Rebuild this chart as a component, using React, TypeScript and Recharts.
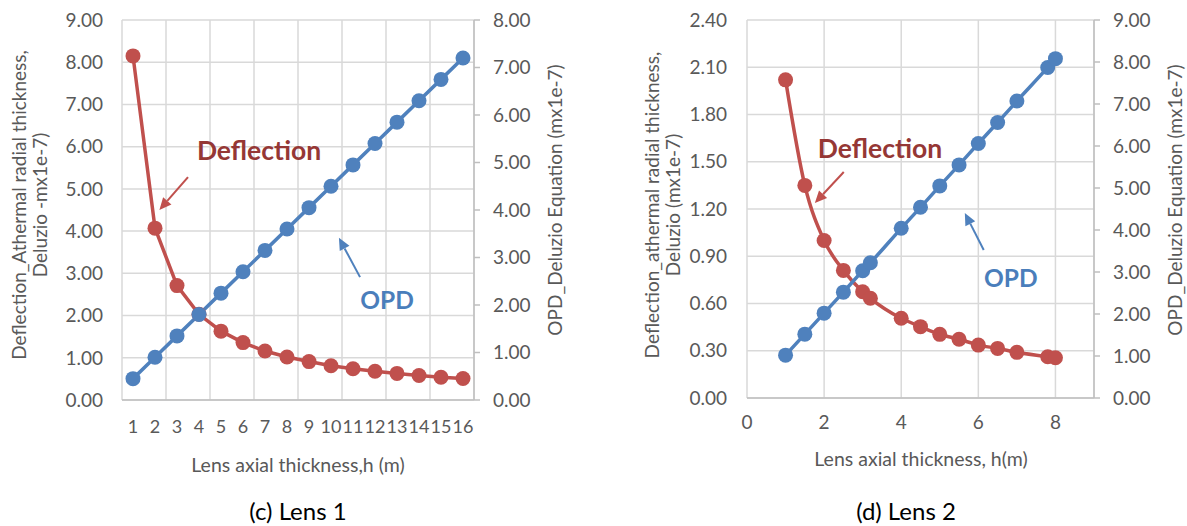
import React from 'react';
import { LineChart, Line, XAxis, YAxis, CartesianGrid, ReferenceLine, ReferenceDot } from 'recharts';

const FONT = "Lato, 'Open Sans', sans-serif";
const RED = '#C0504D';
const BLUE = '#4F81BD';
const RED_TEXT = '#953735';
const BLUE_TEXT = '#4A7EBB';
const AXIS_TEXT = '#595959';
const GRID = '#D9D9D9';
const AXIS_LINE = '#BFBFBF';

// ---- Lens 1 ----
const lens1H = [1, 2, 3, 4, 5, 6, 7, 8, 9, 10, 11, 12, 13, 14, 15, 16];
const lens1Deflection = [8.15, 4.07, 2.71, 2.03, 1.63, 1.36, 1.16, 1.02, 0.91, 0.81, 0.74, 0.68, 0.63, 0.58, 0.54, 0.51];
const lens1OPD = [0.45, 0.9, 1.35, 1.8, 2.25, 2.7, 3.15, 3.6, 4.05, 4.5, 4.95, 5.4, 5.85, 6.3, 6.75, 7.2];
const lens1LeftTicks = [0, 1, 2, 3, 4, 5, 6, 7, 8, 9];
const lens1RightTicks = [0, 1, 2, 3, 4, 5, 6, 7, 8];
const lens1GridX = [0.5, ...lens1H.map((h) => h + 0.5)];

// ---- Lens 2 ----
const lens2H = [1, 1.5, 2, 2.5, 3, 3.2, 4, 4.5, 5, 5.5, 6, 6.5, 7, 7.8, 8];
const lens2Deflection = [2.02, 1.35, 1.0, 0.81, 0.675, 0.633, 0.506, 0.453, 0.404, 0.373, 0.336, 0.315, 0.29, 0.262, 0.256];
const lens2OPD = [1.02, 1.52, 2.02, 2.52, 3.03, 3.22, 4.04, 4.54, 5.05, 5.55, 6.06, 6.56, 7.07, 7.87, 8.08];
const lens2LeftTicks = [0, 0.3, 0.6, 0.9, 1.2, 1.5, 1.8, 2.1, 2.4];
const lens2RightTicks = [0, 1, 2, 3, 4, 5, 6, 7, 8, 9];
const lens2XTicks = [0, 2, 4, 6, 8];

// annotation anchors (data units)
const lens1DeflLabel = { x: 6.73, y: 5.92 };
const lens1DeflArrow = [{ x: 3.5, y: 5.28 }, { x: 2.2, y: 4.5 }];
const lens1OpdLabel = { x: 12.55, y: 2.37 };
const lens1OpdArrow = [{ x: 11.32, y: 2.91 }, { x: 10.36, y: 3.84 }];

const lens2DeflLabel = { x: 3.45, y: 1.587 };
const lens2DeflArrow = [{ x: 2.51, y: 1.435 }, { x: 1.76, y: 1.238 }];
const lens2OpdLabel = { x: 6.84, y: 0.768 };
const lens2OpdArrow = [{ x: 6.14, y: 0.94 }, { x: 5.65, y: 1.175 }];

const lens1Data = lens1H.map((h, i) => ({ h, deflection: lens1Deflection[i], opd: lens1OPD[i] }));
const lens2Data = lens2H.map((h, i) => ({ h, deflection: lens2Deflection[i], opd: lens2OPD[i] }));

const fmt2 = (v: number) => v.toFixed(2);

const arrowShape = (color: string) => (p: any) => {
  const { x1, y1, x2, y2 } = p;
  const ang = Math.atan2(y2 - y1, x2 - x1);
  const head = 12;
  const bx = x2 - head * Math.cos(ang);
  const by = y2 - head * Math.sin(ang);
  const w = 5.5;
  const px = -Math.sin(ang) * w;
  const py = Math.cos(ang) * w;
  return (
    <g>
      <line x1={x1} y1={y1} x2={bx} y2={by} stroke={color} strokeWidth={2} />
      <polygon points={`${x2},${y2} ${bx + px},${by + py} ${bx - px},${by - py}`} fill={color} />
    </g>
  );
};

const textShape = (text: string, color: string, size: number) => (p: any) => (
  <text
    x={p.cx}
    y={p.cy}
    textAnchor="middle"
    dominantBaseline="central"
    fill={color}
    fontSize={size}
    fontWeight={700}
    fontFamily={FONT}
  >
    {text}
  </text>
);

const RotTitle = (props: any) => {
  const { lines, xs, cy } = props;
  return (
    <g>
      {lines.map((t: string, i: number) => (
        <text
          key={i}
          x={xs[i]}
          y={cy}
          transform={`rotate(-90, ${xs[i]}, ${cy})`}
          textAnchor="middle"
          dominantBaseline="central"
          fill={AXIS_TEXT}
          fontSize={19}
          fontFamily={FONT}
        >
          {t}
        </text>
      ))}
    </g>
  );
};

const HTitle = (props: any) => (
  <text x={props.px} y={props.py} textAnchor="middle" dominantBaseline="central" fill={AXIS_TEXT} fontSize={19.5} fontFamily={FONT}>
    {props.text}
  </text>
);

const tickStyle = { fill: AXIS_TEXT, fontSize: 19, fontFamily: FONT };
const xTickStyle1 = { fill: AXIS_TEXT, fontSize: 18, fontFamily: FONT };

export default function App() {
  return (
    <div style={{ position: 'absolute', left: 0, top: 0, width: 1187, height: 526, background: '#fff', fontFamily: FONT }}>
      <div style={{ position: 'absolute', left: 0, top: 0 }}>
        <LineChart width={600} height={526} data={lens1Data} margin={{ top: 20, right: 36, bottom: 66, left: 62 }}>
          <XAxis xAxisId="g" type="number" dataKey="h" domain={[0.5, 16.5]} ticks={lens1GridX} hide />
          <CartesianGrid xAxisId="g" yAxisId="l" stroke={GRID} strokeWidth={1.5} />
          <XAxis
            type="number"
            dataKey="h"
            domain={[0.5, 16.5]}
            ticks={lens1H}
            interval={0}
            tickSize={0}
            tickMargin={20}
            tick={xTickStyle1}
            axisLine={{ stroke: AXIS_LINE, strokeWidth: 1.5 }}
            height={60}
            label={<HTitle px={298} py={464} text="Lens axial thickness,h (m)" />}
          />
          <YAxis
            yAxisId="l"
            domain={[0, 9]}
            ticks={lens1LeftTicks}
            tickFormatter={fmt2}
            tickSize={0}
            tickMargin={19}
            axisLine={false}
            tick={tickStyle}
            width={60}
            label={<RotTitle lines={['Deflection_Athermal radial thickness,', 'Deluzio -mx1e-7)']} xs={[18, 39]} cy={205} />}
          />
          <YAxis
            yAxisId="r"
            orientation="right"
            domain={[0, 8]}
            ticks={lens1RightTicks}
            tickFormatter={fmt2}
            tickSize={6}
            tickMargin={13}
            tickLine={{ stroke: AXIS_LINE, strokeWidth: 1.5 }}
            axisLine={{ stroke: AXIS_LINE, strokeWidth: 1.5 }}
            tick={tickStyle}
            width={90}
            label={<RotTitle lines={['OPD_Deluzio Equation (mx1e-7)']} xs={[554]} cy={200} />}
          />
          <Line
            yAxisId="l"
            type="linear"
            dataKey="deflection"
            stroke={RED}
            strokeWidth={3.5}
            dot={{ r: 7.5, fill: RED, stroke: RED, strokeWidth: 0 }}
            activeDot={false}
            isAnimationActive={false}
          />
          <Line
            yAxisId="r"
            type="linear"
            dataKey="opd"
            stroke={BLUE}
            strokeWidth={3.5}
            dot={{ r: 7.5, fill: BLUE, stroke: BLUE, strokeWidth: 0 }}
            activeDot={false}
            isAnimationActive={false}
          />
          <ReferenceLine yAxisId="l" segment={lens1DeflArrow} shape={arrowShape(RED)} />
          <ReferenceLine yAxisId="l" segment={lens1OpdArrow} shape={arrowShape(BLUE)} />
          <ReferenceDot yAxisId="l" x={lens1DeflLabel.x} y={lens1DeflLabel.y} r={0} shape={textShape('Deflection', RED_TEXT, 26.5)} />
          <ReferenceDot yAxisId="l" x={lens1OpdLabel.x} y={lens1OpdLabel.y} r={0} shape={textShape('OPD', BLUE_TEXT, 24.5)} />
        </LineChart>
      </div>
      <div style={{ position: 'absolute', left: 600, top: 0 }}>
        <LineChart width={587} height={526} data={lens2Data} margin={{ top: 20, right: 23, bottom: 68, left: 67 }}>
          <CartesianGrid yAxisId="l" stroke={GRID} strokeWidth={1.5} />
          <XAxis
            type="number"
            dataKey="h"
            domain={[0, 9]}
            ticks={lens2XTicks}
            interval={0}
            tickSize={0}
            tickMargin={18}
            tick={tickStyle}
            axisLine={{ stroke: AXIS_LINE, strokeWidth: 1.5 }}
            height={60}
            label={<HTitle px={321} py={458} text="Lens axial thickness, h(m)" />}
          />
          <YAxis
            yAxisId="l"
            domain={[0, 2.4]}
            ticks={lens2LeftTicks}
            tickFormatter={fmt2}
            tickSize={0}
            tickMargin={20}
            axisLine={false}
            tick={tickStyle}
            width={80}
            label={<RotTitle lines={['Deflection_athermal radial thickness,', 'Deluzio (mx1e-7)']} xs={[51, 72]} cy={205} />}
          />
          <YAxis
            yAxisId="r"
            orientation="right"
            domain={[0, 9]}
            ticks={lens2RightTicks}
            tickFormatter={fmt2}
            tickSize={6}
            tickMargin={13}
            tickLine={{ stroke: AXIS_LINE, strokeWidth: 1.5 }}
            axisLine={{ stroke: AXIS_LINE, strokeWidth: 1.5 }}
            tick={tickStyle}
            width={70}
            label={<RotTitle lines={['OPD_Deluzio Equation (mx1e-7)']} xs={[574]} cy={200} />}
          />
          <Line
            yAxisId="l"
            type="monotone"
            dataKey="deflection"
            stroke={RED}
            strokeWidth={3.5}
            dot={{ r: 7.5, fill: RED, stroke: RED, strokeWidth: 0 }}
            activeDot={false}
            isAnimationActive={false}
          />
          <Line
            yAxisId="r"
            type="monotone"
            dataKey="opd"
            stroke={BLUE}
            strokeWidth={3.5}
            dot={{ r: 7.5, fill: BLUE, stroke: BLUE, strokeWidth: 0 }}
            activeDot={false}
            isAnimationActive={false}
          />
          <ReferenceLine yAxisId="l" segment={lens2DeflArrow} shape={arrowShape(RED)} />
          <ReferenceLine yAxisId="l" segment={lens2OpdArrow} shape={arrowShape(BLUE)} />
          <ReferenceDot yAxisId="l" x={lens2DeflLabel.x} y={lens2DeflLabel.y} r={0} shape={textShape('Deflection', RED_TEXT, 26.5)} />
          <ReferenceDot yAxisId="l" x={lens2OpdLabel.x} y={lens2OpdLabel.y} r={0} shape={textShape('OPD', BLUE_TEXT, 24.5)} />
        </LineChart>
      </div>
      <div style={{ position: 'absolute', left: 198, top: 496, width: 200, textAlign: 'center', fontSize: 24, color: '#000', fontFamily: FONT, lineHeight: '30px' }}>
        (c) Lens 1
      </div>
      <div style={{ position: 'absolute', left: 806, top: 496, width: 200, textAlign: 'center', fontSize: 24, color: '#000', fontFamily: FONT, lineHeight: '30px' }}>
        (d) Lens 2
      </div>
    </div>
  );
}
